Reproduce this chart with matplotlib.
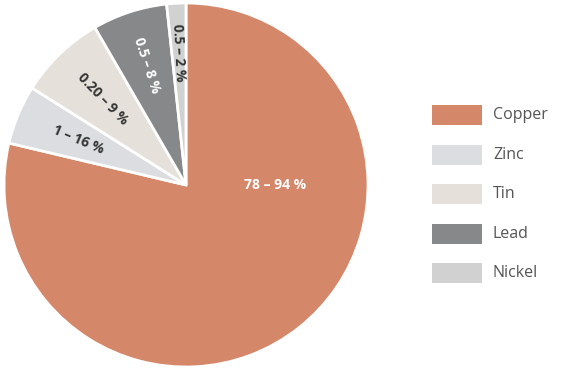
import numpy as np
import matplotlib
matplotlib.use('Agg')
import matplotlib.pyplot as plt
from matplotlib.patches import Rectangle

metals  = ["Copper", "Zinc", "Tin", "Lead", "Nickel"]
shares  = [78.7, 5.25, 7.7, 6.65, 1.7]
ranges  = ["78 – 94 %", "1 – 16 %", "0.20 – 9 %", "0.5 – 8 %", "0.5 – 2 %"]
colors  = ["#d5876a", "#dcdde0", "#e5e1da", "#87888a", "#d1d1d1"]
txt_col = ["white", "#333333", "#333333", "white", "#333333"]

plt.rcParams['font.family'] = ['Open Sans', 'DejaVu Sans']

W, H = 562, 371
fig = plt.figure(figsize=(W / 100, H / 100), dpi=100, facecolor="white")

# pie: centre (186,185) px, radius 182 px
R, cx, cy = 182, 186, 185
ax = fig.add_axes([(cx - R) / W, (H - cy - R) / H, 2 * R / W, 2 * R / H])
wedges, _ = ax.pie(shares, colors=colors, startangle=90, counterclock=False,
                   wedgeprops=dict(edgecolor="white", linewidth=2))
ax.set_xlim(-1, 1)
ax.set_ylim(-1, 1)
ax.set_aspect("equal")
ax.axis("off")

label_r = [0.49, 0.64, 0.66, 0.69, 0.73]
for i, w in enumerate(wedges):
    mid = (w.theta1 + w.theta2) / 2
    if i == 0:
        x, y, rot = label_r[i], 0.0, 0
    else:
        x = label_r[i] * np.cos(np.radians(mid))
        y = label_r[i] * np.sin(np.radians(mid))
        rot = mid - 180
    ax.text(x, y, ranges[i], ha="center", va="center", rotation=rot,
            rotation_mode="anchor", color=txt_col[i], fontsize=10,
            fontweight="bold")

# legend
lax = fig.add_axes([0, 0, 1, 1])
lax.set_xlim(0, W)
lax.set_ylim(H, 0)
lax.axis("off")
row_y = [115, 155, 194, 234, 273]
for name, col, y in zip(metals, colors, row_y):
    lax.add_patch(Rectangle((432, y - 10), 50, 20, facecolor=col, edgecolor="none"))
    lax.text(493, y, name, ha="left", va="center", fontsize=11.5, color="#555555")

fig.savefig("out.png", dpi=100, facecolor="white")
